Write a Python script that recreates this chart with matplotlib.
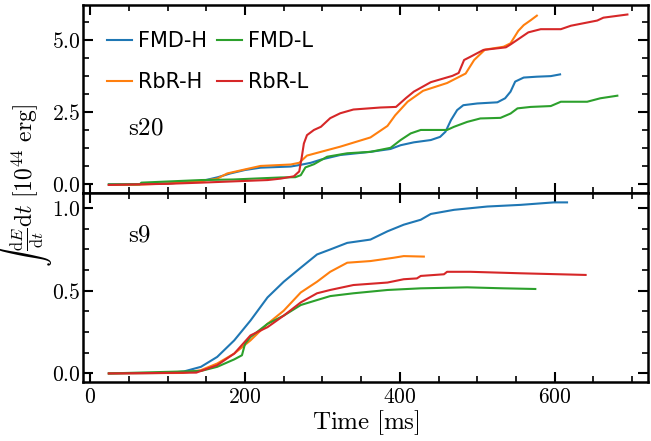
import matplotlib
matplotlib.use("Agg")
import matplotlib.pyplot as plt
from matplotlib.ticker import MultipleLocator, FuncFormatter

plt.rcParams['mathtext.fontset'] = 'cm'
plt.rcParams['font.family'] = ['DejaVu Sans']

colors = {"FMD-H": "#1f77b4", "FMD-L": "#2ca02c", "RbR-H": "#ff7f0e", "RbR-L": "#d62728"}

# ---- s20 (top panel), time in ms, energy in 1e44 erg ----
s20_fmdh_t = [24, 65, 100, 143, 165, 181, 200, 220, 259, 272, 285, 298, 323, 362, 388, 401, 418, 440, 452, 459, 466, 474, 482, 500, 526, 536, 543, 549, 560, 577, 595, 607]
s20_fmdh_E = [0, 0.01, 0.03, 0.11, 0.25, 0.38, 0.5, 0.58, 0.62, 0.68, 0.75, 0.86, 1.02, 1.13, 1.23, 1.36, 1.46, 1.54, 1.65, 1.83, 2.23, 2.58, 2.75, 2.81, 2.85, 2.99, 3.22, 3.57, 3.71, 3.74, 3.76, 3.82]

s20_fmdl_t = [24, 64, 66, 100, 143, 185, 246, 265, 272, 278, 289, 306, 332, 362, 388, 401, 414, 427, 461, 470, 487, 504, 530, 543, 552, 569, 595, 608, 642, 659, 681]
s20_fmdl_E = [0, 0.0, 0.06, 0.1, 0.15, 0.17, 0.24, 0.25, 0.32, 0.59, 0.70, 0.96, 1.08, 1.13, 1.27, 1.54, 1.77, 1.89, 1.89, 2.0, 2.17, 2.29, 2.31, 2.46, 2.64, 2.69, 2.72, 2.87, 2.87, 2.99, 3.08]

s20_rbrh_t = [24, 60, 100, 143, 164, 177, 200, 220, 259, 270, 280, 298, 323, 362, 384, 394, 410, 430, 461, 485, 496, 510, 534, 543, 553, 560, 569, 577]
s20_rbrh_E = [-0.02, -0.01, 0.03, 0.11, 0.2, 0.38, 0.52, 0.64, 0.69, 0.75, 1.0, 1.13, 1.31, 1.63, 2.03, 2.4, 2.87, 3.25, 3.52, 3.85, 4.32, 4.68, 4.78, 4.90, 5.33, 5.53, 5.70, 5.86]

s20_rbrl_t = [24, 100, 143, 200, 229, 246, 263, 270, 273, 276, 280, 289, 298, 310, 323, 340, 375, 395, 408, 418, 440, 468, 476, 483, 491, 508, 537, 543, 566, 582, 608, 621, 655, 663, 694]
s20_rbrl_E = [-0.02, 0.02, 0.06, 0.12, 0.15, 0.2, 0.28, 0.45, 0.9, 1.42, 1.71, 1.89, 2.0, 2.3, 2.47, 2.6, 2.67, 2.69, 3.0, 3.22, 3.55, 3.77, 3.87, 4.32, 4.43, 4.67, 4.76, 4.86, 5.28, 5.39, 5.39, 5.51, 5.69, 5.79, 5.90]

# ---- s9 (bottom panel) ----
s9_fmdh_t = [24, 100, 121, 143, 164, 186, 207, 229, 250, 272, 293, 310, 332, 362, 384, 405, 427, 440, 470, 513, 556, 599, 616]
s9_fmdh_E = [0, 0.003, 0.012, 0.04, 0.10, 0.20, 0.32, 0.46, 0.555, 0.64, 0.72, 0.75, 0.79, 0.81, 0.86, 0.90, 0.93, 0.965, 0.99, 1.01, 1.02, 1.035, 1.035]

s9_fmdl_t = [24, 143, 164, 186, 196, 200, 207, 229, 250, 272, 293, 310, 340, 384, 427, 487, 534, 575]
s9_fmdl_E = [0, 0.015, 0.04, 0.085, 0.11, 0.18, 0.22, 0.30, 0.35, 0.414, 0.444, 0.468, 0.485, 0.505, 0.515, 0.521, 0.515, 0.511]

s9_rbrh_t = [24, 120, 143, 164, 186, 207, 229, 250, 272, 293, 310, 332, 362, 392, 405, 431]
s9_rbrh_E = [0, 0.003, 0.02, 0.06, 0.12, 0.20, 0.30, 0.38, 0.49, 0.555, 0.615, 0.67, 0.68, 0.70, 0.71, 0.707]

s9_rbrl_t = [24, 137, 164, 186, 207, 229, 250, 272, 293, 310, 340, 384, 405, 422, 427, 457, 461, 491, 556, 640]
s9_rbrl_E = [0, 0.005, 0.05, 0.12, 0.23, 0.28, 0.35, 0.43, 0.485, 0.505, 0.535, 0.55, 0.57, 0.575, 0.59, 0.60, 0.615, 0.615, 0.606, 0.596]

fig = plt.figure(figsize=(6.51, 4.41), dpi=100)
L, R = 83.3 / 651, 648.3 / 651
yt, ym, yb = 1 - 5 / 441, 1 - 193.3 / 441, 1 - 381.7 / 441
ax1 = fig.add_axes([L, ym, R - L, yt - ym])
ax2 = fig.add_axes([L, yb, R - L, ym - yb], sharex=ax1)

lw = 1.5
ax1.plot(s20_fmdh_t, s20_fmdh_E, color=colors["FMD-H"], lw=lw, label="FMD-H")
ax1.plot(s20_rbrh_t, s20_rbrh_E, color=colors["RbR-H"], lw=lw, label="RbR-H")
ax1.plot(s20_fmdl_t, s20_fmdl_E, color=colors["FMD-L"], lw=lw, label="FMD-L")
ax1.plot(s20_rbrl_t, s20_rbrl_E, color=colors["RbR-L"], lw=lw, label="RbR-L")

ax2.plot(s9_fmdh_t, s9_fmdh_E, color=colors["FMD-H"], lw=lw)
ax2.plot(s9_rbrh_t, s9_rbrh_E, color=colors["RbR-H"], lw=lw)
ax2.plot(s9_fmdl_t, s9_fmdl_E, color=colors["FMD-L"], lw=lw)
ax2.plot(s9_rbrl_t, s9_rbrl_E, color=colors["RbR-L"], lw=lw)

ax1.set_xlim(-9, 721)
ax1.set_ylim(-0.31, 6.23)
ax2.set_ylim(-0.05, 1.09)

fmt1 = FuncFormatter(lambda v, p: r"$%.1f$" % v)
fmtx = FuncFormatter(lambda v, p: r"$%d$" % v)
for ax in (ax1, ax2):
    for s in ax.spines.values():
        s.set_linewidth(1.8)
    ax.tick_params(which='both', direction='in', top=True, right=True, labelsize=15.5)
    ax.tick_params(which='major', length=7, width=1.5, pad=2)
    ax.tick_params(which='minor', length=4.5, width=1.2)
    ax.tick_params(axis='x', which='major', pad=4)
    ax.xaxis.set_major_locator(MultipleLocator(200))
    ax.xaxis.set_minor_locator(MultipleLocator(50))
    ax.yaxis.set_major_formatter(fmt1)
ax1.yaxis.set_major_locator(MultipleLocator(2.5))
ax1.yaxis.set_minor_locator(MultipleLocator(0.625))
ax2.yaxis.set_major_locator(MultipleLocator(0.5))
ax2.yaxis.set_minor_locator(MultipleLocator(0.125))
ax2.xaxis.set_major_formatter(fmtx)
ax1.tick_params(axis='x', labelbottom=False)

ax2.set_xlabel(r"$\mathrm{Time\ [ms]}$", fontsize=18, labelpad=1)
fig.text(0.038, 0.579, r"$\int\,\frac{\mathrm{d}E}{\mathrm{d}t}\mathrm{d}t\ [10^{44}\ \mathrm{erg}]$",
         rotation=90, fontsize=17, ha='center', va='center')

ax1.text(0.079, 0.352, r"$\mathrm{s20}$", transform=ax1.transAxes, fontsize=18, va='center', ha='left')
ax2.text(0.079, 0.779, r"$\mathrm{s9}$", transform=ax2.transAxes, fontsize=18, va='center', ha='left')

ax1.legend(loc='upper left', bbox_to_anchor=(0.042, 0.86), ncol=2, frameon=False, fontsize=15,
           handlelength=1.2, handletextpad=0.3, columnspacing=0.45, labelspacing=1.0,
           borderaxespad=0, borderpad=0)

fig.savefig("out.png", dpi=100)
